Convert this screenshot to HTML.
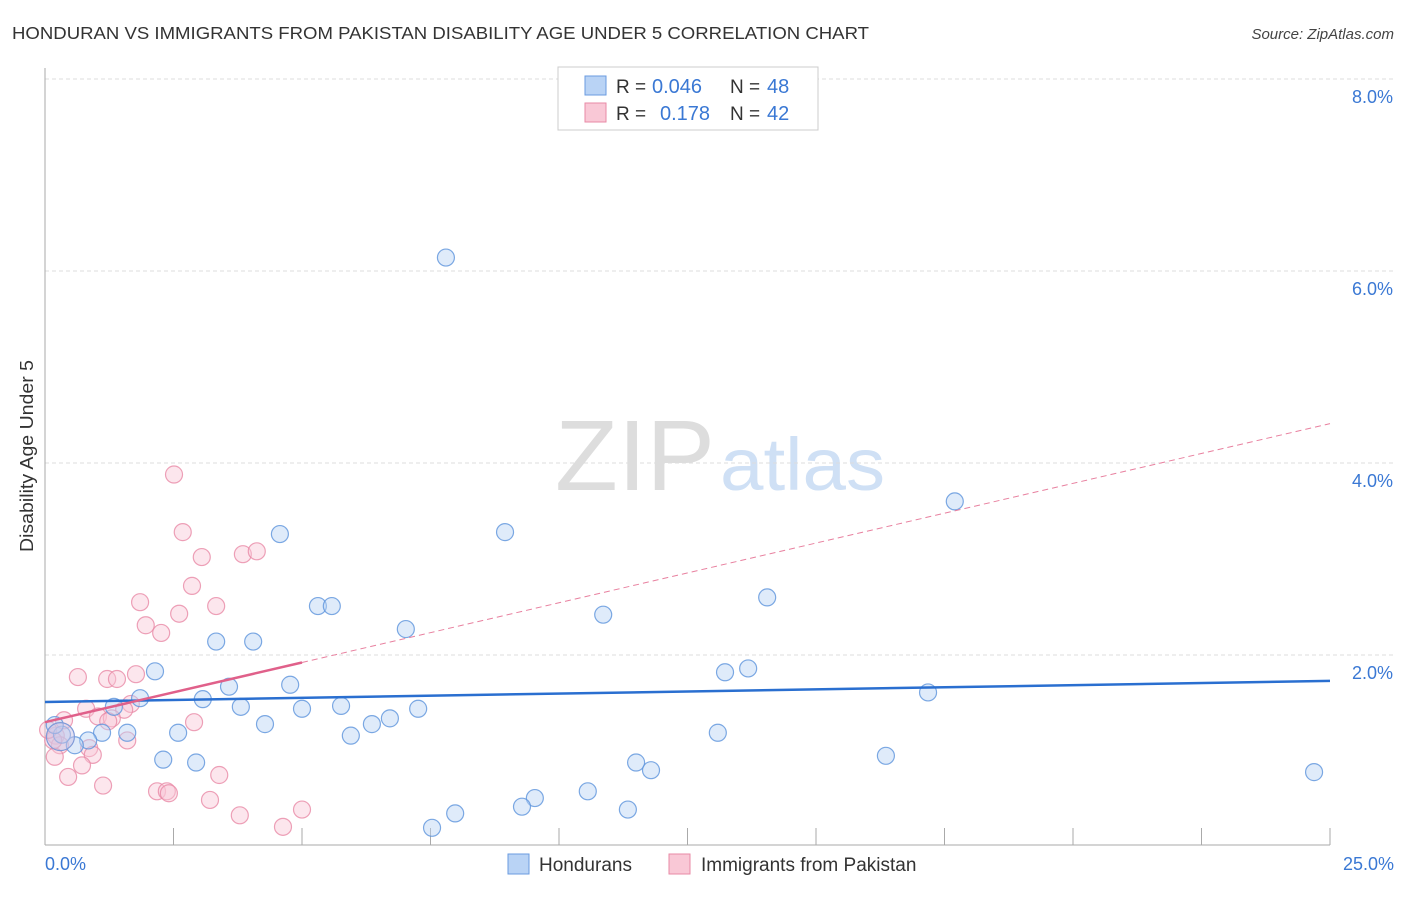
<!DOCTYPE html>
<html><head><meta charset="utf-8"><style>
body{margin:0;background:#fff;font-family:"Liberation Sans",sans-serif;}
svg text{font-family:"Liberation Sans",sans-serif;}
</style></head><body>
<svg id="chart" width="1406" height="892" xmlns="http://www.w3.org/2000/svg">
<text x="12" y="39" font-size="17.5" fill="#333" textLength="857" lengthAdjust="spacingAndGlyphs">HONDURAN VS IMMIGRANTS FROM PAKISTAN DISABILITY AGE UNDER 5 CORRELATION CHART</text>
<text x="1394" y="39" font-size="15" fill="#444" text-anchor="end" font-style="italic">Source: ZipAtlas.com</text>
<text transform="translate(33,456) rotate(-90)" font-size="18" fill="#333" text-anchor="middle" textLength="192" lengthAdjust="spacingAndGlyphs">Disability Age Under 5</text>
<text x="555" y="490" font-size="100" fill="#ddd" font-family="Liberation Serif" textLength="160" lengthAdjust="spacingAndGlyphs">ZIP</text>
<text x="720" y="490" font-size="74" fill="#cfe0f5" textLength="165" lengthAdjust="spacingAndGlyphs">atlas</text>
<g id="grid"></g><g id="axes"></g><g id="pts"></g><g id="trend"></g>
<g>
<rect x="558" y="67" width="260" height="63" fill="#fff" stroke="#ccc"/>
<rect x="585" y="76" width="21" height="19" fill="#b9d3f5" stroke="#6a9be0"/>
<text x="616" y="93" font-size="19" fill="#333">R =</text>
<text x="652" y="93" font-size="20" fill="#3a78d4">0.046</text>
<text x="730" y="93" font-size="19" fill="#333">N =</text>
<text x="767" y="93" font-size="20" fill="#3a78d4">48</text>
<rect x="585" y="103" width="21" height="19" fill="#f9c8d6" stroke="#e88aa6"/>
<text x="616" y="120" font-size="19" fill="#333">R =</text>
<text x="660" y="120" font-size="20" fill="#3a78d4">0.178</text>
<text x="730" y="120" font-size="19" fill="#333">N =</text>
<text x="767" y="120" font-size="20" fill="#3a78d4">42</text>
</g>
<g>
<rect x="508" y="854" width="21" height="20" fill="#b9d3f5" stroke="#6a9be0"/>
<text x="539" y="871" font-size="19" fill="#333">Hondurans</text>
<rect x="669" y="854" width="21" height="20" fill="#f9c8d6" stroke="#e88aa6"/>
<text x="701" y="871" font-size="19" fill="#333">Immigrants from Pakistan</text>
</g>
</svg>
<script>
const xTicks=[0,2.5,5,7.5,10,12.5,15,17.5,20,22.5,25];
const yTicks=[2,4,6,8];
const yTickLabels=["2.0%","4.0%","6.0%","8.0%"];
const honX=[7.80,17.70,4.57,8.95,14.05,5.31,5.58,10.86,7.02,3.33,4.05,2.14,13.23,13.68,1.85,3.07,3.58,4.77,17.18,3.81,5.00,5.76,7.26,6.71,4.28,6.36,1.34,2.59,1.60,1.11,5.95,13.09,0.84,0.58,0.33,0.19,16.36,2.30,2.94,11.50,11.79,24.69,10.56,9.53,9.28,7.98,11.34,7.53];
const honY=[6.14,3.60,3.26,3.28,2.60,2.51,2.51,2.42,2.27,2.14,2.14,1.83,1.82,1.86,1.55,1.54,1.67,1.69,1.61,1.46,1.44,1.47,1.44,1.34,1.28,1.28,1.46,1.19,1.19,1.19,1.16,1.19,1.11,1.06,1.17,1.27,0.95,0.91,0.88,0.88,0.80,0.78,0.58,0.51,0.42,0.35,0.39,0.20];
const pakX=[2.51,2.68,3.05,3.85,4.12,2.86,1.85,3.33,2.61,1.96,2.26,0.64,1.21,1.40,1.77,0.80,1.67,1.54,1.03,1.30,0.37,2.90,0.21,1.23,0.29,0.16,0.86,1.60,0.19,0.93,0.72,0.45,1.13,3.39,2.18,2.37,2.41,3.21,3.79,5.00,4.63,0.06];
const pakY=[3.88,3.28,3.02,3.05,3.08,2.72,2.55,2.51,2.43,2.31,2.23,1.77,1.75,1.75,1.80,1.44,1.49,1.43,1.36,1.34,1.32,1.30,1.16,1.31,1.06,1.11,1.03,1.11,0.94,0.96,0.85,0.73,0.64,0.75,0.58,0.58,0.56,0.49,0.33,0.39,0.21,1.22];
const honTrend=[1.51,1.73];
const pakTrend=[1.30,4.41];
const pakSolidEnd=5;
const NS="http://www.w3.org/2000/svg";
const X=v=>45+v*51.4, Y=v=>847-v*96;
function mk(tag,attrs,parent){const e=document.createElementNS(NS,tag);for(const k in attrs)e.setAttribute(k,attrs[k]);document.getElementById(parent).appendChild(e);return e;}
yTicks.forEach((t,i)=>{
 const g=mk('line',{x1:45,x2:1394,y1:Y(t),y2:Y(t),stroke:'#ddd','stroke-dasharray':'4,3'},'grid');
 
 
 const l=mk('text',{x:1393,y:Y(t)+24,'font-size':18,fill:'#3a78d4','text-anchor':'end'},'grid');
 l.textContent=yTickLabels[i];
 
 
});
const ax=mk('line',{x1:45,x2:45,y1:68,y2:845,stroke:'#aaa'},'axes');


const bx=mk('line',{x1:45,x2:1330,y1:845,y2:845,stroke:'#aaa'},'axes');


xTicks.forEach(t=>{
 const e=mk('line',{x1:X(t),x2:X(t),y1:828,y2:845,stroke:'#aaa'},'axes');
 
 
});
const l0=mk('text',{x:45,y:870,'font-size':18,fill:'#3a78d4'},'axes');l0.textContent='0.0%';


const l1=mk('text',{x:1394,y:870,'font-size':18,fill:'#3a78d4','text-anchor':'end'},'axes');l1.textContent='25.0%';


function dots(xs,ys,fill,stroke,name){xs.forEach((x,i)=>{
 const c=mk('circle',{cx:X(x),cy:Y(ys[i]),r:8.5,fill:fill,'fill-opacity':0.45,stroke:stroke,'stroke-width':1.2,'stroke-opacity':0.8},'pts');
 
 
});}
dots(pakX,pakY,'#f9c8d6','#e88aa6','pakistan-point');
dots(honX,honY,'#b9d3f5','#5d93dc','honduran-point');
const big=mk('circle',{cx:X(0.3),cy:Y(1.15),r:14,fill:'#c9c3e6','fill-opacity':0.5,stroke:'#7f9ad8','stroke-width':1.2},'pts');


const ht=mk('line',{x1:X(0),x2:X(25),y1:Y(honTrend[0]),y2:Y(honTrend[1]),stroke:'#2a6fd0','stroke-width':2.5},'trend');


const pAt=v=>pakTrend[0]+(pakTrend[1]-pakTrend[0])*v/25;
const ps=mk('line',{x1:X(0),x2:X(pakSolidEnd),y1:Y(pAt(0)),y2:Y(pAt(pakSolidEnd)),stroke:'#e0608a','stroke-width':2.5},'trend');


const pd=mk('line',{x1:X(pakSolidEnd),x2:X(25),y1:Y(pAt(pakSolidEnd)),y2:Y(pAt(25)),stroke:'#e8809f','stroke-width':1,'stroke-dasharray':'6,4'},'trend');


</script>
</body></html>
